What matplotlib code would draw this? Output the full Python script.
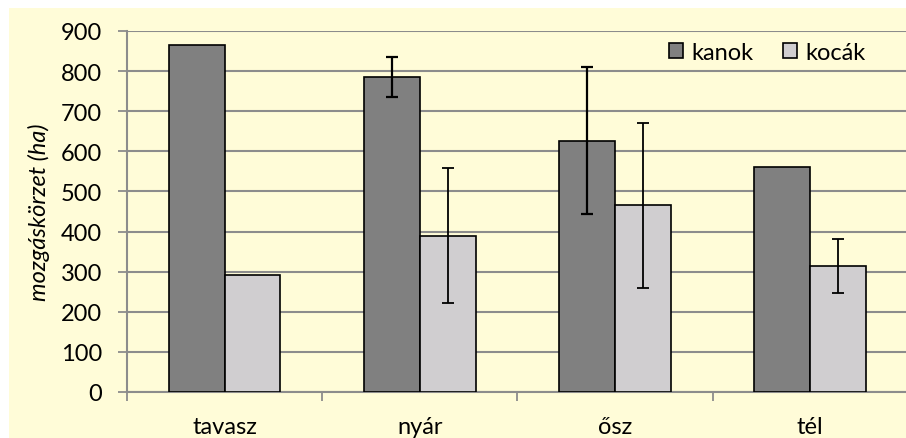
import matplotlib
matplotlib.use("Agg")
import matplotlib.pyplot as plt
import numpy as np
from matplotlib.patches import Rectangle

categories = ["tavasz", "nyár", "ősz", "tél"]
kanok = [865, 786, 627, 562]
kocak = [292, 390, 465, 314]
kanok_err = [0, 50, 183, 0]
kocak_err = [0, 168, 205, 68]
yticks = [0, 100, 200, 300, 400, 500, 600, 700, 800, 900]

plt.rcParams['font.family'] = ['Lato', 'DejaVu Sans']
FS = 17

fig = plt.figure(figsize=(9.06, 4.39), dpi=100)
fig.patch.set_facecolor('white')
bg = '#FFFCD8'
fig.patches.append(Rectangle((9/906, 0), 1, 1 - 9/439, transform=fig.transFigure,
                             facecolor=bg, edgecolor='none', zorder=-5))

ax = fig.add_axes([127/906, 1 - 393/439, (906 - 127)/906 + 0.002, (393 - 32)/439])
ax.set_facecolor(bg)

x = np.arange(len(categories))
w = 0.2857
grey = '#8C8C8C'
ax.bar(x - w/2, kanok, w, color='#808080', edgecolor='black', linewidth=1.2, label='kanok', zorder=3)
ax.bar(x + w/2, kocak, w, color='#D0CED0', edgecolor='black', linewidth=1.2, label='kocák', zorder=3)

for xi, v, e in zip(x - w/2, kanok, kanok_err):
    if e > 0:
        ax.errorbar(xi, v, yerr=e, fmt='none', ecolor='black', elinewidth=1.6,
                    capsize=4.5, capthick=1.6, zorder=4)
for xi, v, e in zip(x + w/2, kocak, kocak_err):
    if e > 0:
        ax.errorbar(xi, v, yerr=e, fmt='none', ecolor='black', elinewidth=1.3,
                    capsize=4.5, capthick=1.3, zorder=4)

ax.set_xlim(-0.5, 3.5)
ax.set_ylim(0, 900)
ax.set_yticks(yticks)
ax.yaxis.grid(True, color=grey, linewidth=1.5, zorder=1)
ax.set_axisbelow(True)

ax.set_xticks(np.arange(-0.5, 4.0, 1.0), minor=False)
ax.set_xticklabels([])
ax.set_xticks(x, minor=True)
ax.set_xticklabels(categories, minor=True, fontsize=FS)
ax.tick_params(axis='x', which='minor', length=0, pad=17)
ax.tick_params(axis='x', which='major', length=6.5, width=1.3, color=grey, direction='out')
ax.tick_params(axis='y', length=6.5, width=1.3, color=grey, direction='out', pad=11.5, labelsize=FS)

for s in ['top', 'right']:
    ax.spines[s].set_visible(False)
ax.spines['left'].set_color(grey)
ax.spines['left'].set_linewidth(1.5)
ax.spines['bottom'].set_color(grey)
ax.spines['bottom'].set_linewidth(1.5)

ax.set_ylabel('mozgáskörzet (ha)', fontsize=FS, style='italic', labelpad=8)

leg = ax.legend(loc='center right', bbox_to_anchor=(866/906, 1 - 53/439),
                bbox_transform=fig.transFigure, ncol=2, frameon=False,
                fontsize=FS, handlelength=0.6, handleheight=0.6, handletextpad=0.35,
                columnspacing=1.25, borderaxespad=0, borderpad=0)

fig.savefig('out.png', dpi=100, facecolor='white')
